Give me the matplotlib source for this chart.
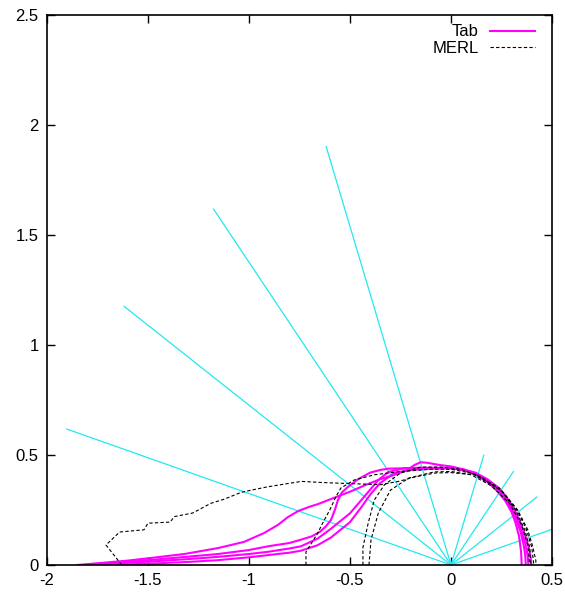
import numpy as np
from matplotlib import pyplot as plt

plt.rcParams['font.family'] = ['Liberation Sans', 'DejaVu Sans']

# ray directions (degrees from the normal) and their drawn lengths
ray_angles = [18, 36, 54, 72]
in_length = 2.0
out_length = 0.525

# Tab lobes, one per incidence angle (x, y)
tab_x = [
    [-1.85, -1.6, -1.485, -1.32, -1.153, -1.025, -0.926, -0.857, -0.807, -0.757, -0.7, -0.658, -0.58,
     -0.495, -0.42, -0.35, -0.28, -0.22, -0.18, -0.15, -0.12, -0.06, 0.0, 0.06, 0.12, 0.18, 0.23,
     0.27, 0.3, 0.325, 0.345, 0.36, 0.368, 0.37],
    [-1.8, -1.6, -1.485, -1.3, -1.153, -1.0, -0.906, -0.8, -0.743, -0.69, -0.65, -0.62, -0.594,
     -0.575, -0.56, -0.54, -0.51, -0.46, -0.4, -0.35, -0.31, -0.21, -0.1, 0.0, 0.06, 0.12, 0.18,
     0.23, 0.27, 0.3, 0.32, 0.337, 0.347, 0.35],
    [-1.75, -1.6, -1.485, -1.3, -1.153, -1.0, -0.906, -0.8, -0.743, -0.66, -0.594, -0.5, -0.43,
     -0.36, -0.31, -0.23, -0.15, -0.06, 0.0, 0.06, 0.12, 0.18, 0.23, 0.27, 0.3, 0.33, 0.355, 0.37,
     0.38, 0.383],
    [-1.7, -1.5, -1.3, -1.153, -1.0, -0.906, -0.8, -0.743, -0.66, -0.594, -0.5, -0.446, -0.4, -0.35,
     -0.28, -0.2, -0.1, 0.0, 0.06, 0.12, 0.18, 0.23, 0.27, 0.31, 0.34, 0.365, 0.385, 0.395, 0.398],
]
tab_y = [
    [0.0, 0.02, 0.032, 0.05, 0.077, 0.105, 0.145, 0.182, 0.218, 0.245, 0.265, 0.277, 0.305,
     0.335, 0.365, 0.39, 0.41, 0.43, 0.455, 0.467, 0.465, 0.455, 0.448, 0.435, 0.415, 0.38, 0.34,
     0.295, 0.25, 0.2, 0.15, 0.09, 0.04, 0.0],
    [0.0, 0.014, 0.023, 0.038, 0.05, 0.068, 0.085, 0.1, 0.115, 0.13, 0.15, 0.175, 0.205,
     0.25, 0.295, 0.33, 0.355, 0.39, 0.42, 0.432, 0.438, 0.44, 0.44, 0.44, 0.432, 0.412, 0.378,
     0.335, 0.29, 0.24, 0.19, 0.13, 0.06, 0.0],
    [0.0, 0.01, 0.016, 0.027, 0.037, 0.05, 0.06, 0.075, 0.085, 0.12, 0.165, 0.235, 0.31,
     0.386, 0.423, 0.44, 0.442, 0.442, 0.44, 0.432, 0.415, 0.385, 0.345, 0.3, 0.26, 0.2, 0.14, 0.09,
     0.04, 0.0],
    [0.0, 0.006, 0.014, 0.022, 0.035, 0.045, 0.056, 0.065, 0.09, 0.125, 0.195, 0.26, 0.32, 0.373,
     0.418, 0.432, 0.438, 0.44, 0.435, 0.42, 0.39, 0.355, 0.315, 0.26, 0.2, 0.14, 0.08, 0.03, 0.0],
]

# MERL lobes (x, y)
merl_x = [
    [-1.63, -1.708, -1.64, -1.52, -1.5, -1.39, -1.37, -1.28, -1.24, -1.19, -1.12, -1.04, -0.99, -0.91,
     -0.81, -0.74, -0.64, -0.5, -0.35, -0.26, -0.18, -0.08, 0.0, 0.114, 0.248, 0.33, 0.38, 0.405,
     0.42, 0.42],
    [-0.718, -0.718, -0.69, -0.66, -0.63, -0.6, -0.57, -0.545, -0.48, -0.38, -0.25, -0.1, 0.0, 0.114,
     0.24, 0.32, 0.37, 0.4, 0.41],
    [-0.436, -0.436, -0.41, -0.38, -0.33, -0.25, -0.15, -0.05, 0.05, 0.15, 0.25, 0.32, 0.365, 0.39,
     0.395],
    [-0.406, -0.396, -0.36, -0.3, -0.21, -0.084, 0.0, 0.1, 0.2, 0.29, 0.35, 0.38, 0.39],
]
merl_y = [
    [0.0, 0.091, 0.15, 0.16, 0.19, 0.195, 0.22, 0.236, 0.255, 0.28, 0.3, 0.33, 0.34, 0.355,
     0.37, 0.38, 0.375, 0.37, 0.365, 0.38, 0.4, 0.418, 0.42, 0.41, 0.34, 0.25, 0.16, 0.082,
     0.02, 0.0],
    [0.0, 0.06, 0.1, 0.145, 0.2, 0.25, 0.31, 0.35, 0.386, 0.41, 0.425, 0.435, 0.435, 0.415,
     0.35, 0.26, 0.17, 0.08, 0.0],
    [0.0, 0.08, 0.19, 0.295, 0.364, 0.418, 0.445, 0.445, 0.435, 0.4, 0.335, 0.25, 0.16, 0.08,
     0.0],
    [0.0, 0.114, 0.236, 0.34, 0.395, 0.423, 0.425, 0.41, 0.36, 0.28, 0.18, 0.09, 0.0],
]

fig = plt.figure(figsize=(5.65, 5.92), dpi=100)
ax = fig.add_axes([47 / 565, 27 / 592, 505 / 565, 550 / 592])

for a in ray_angles:
    t = np.radians(a)
    ax.plot([0, -in_length * np.sin(t)], [0, in_length * np.cos(t)], color='#22e8f0', lw=0.9)
    ax.plot([0, out_length * np.sin(t)], [0, out_length * np.cos(t)], color='#22e8f0', lw=0.9)

for i in range(len(tab_x)):
    ax.plot(tab_x[i], tab_y[i], color='#ff00ff', lw=1.5, label='Tab' if i == 0 else None)

for i in range(len(merl_x)):
    ax.plot(merl_x[i], merl_y[i], color='black', lw=0.8, dashes=(3, 2),
            label='MERL' if i == 0 else None)

ax.set_xlim(-2, 0.5)
ax.set_ylim(0, 2.5)
ax.set_xticks(np.arange(-2, 0.51, 0.5))
ax.set_yticks(np.arange(0, 2.51, 0.5))
ax.set_xticklabels(['-2', '-1.5', '-1', '-0.5', '0', '0.5'])
ax.set_yticklabels(['0', '0.5', '1', '1.5', '2', '2.5'])
ax.tick_params(direction='in', length=6, width=1, top=True, right=True, labelsize=12, pad=6)
for s in ax.spines.values():
    s.set_linewidth(1.2)

ax.legend(loc='upper right', bbox_to_anchor=(0.98, 0.995), frameon=False, markerfirst=False,
          fontsize=12, handlelength=2.7, handletextpad=0.7, labelspacing=0.1, borderaxespad=0)

fig.savefig('out.png')
